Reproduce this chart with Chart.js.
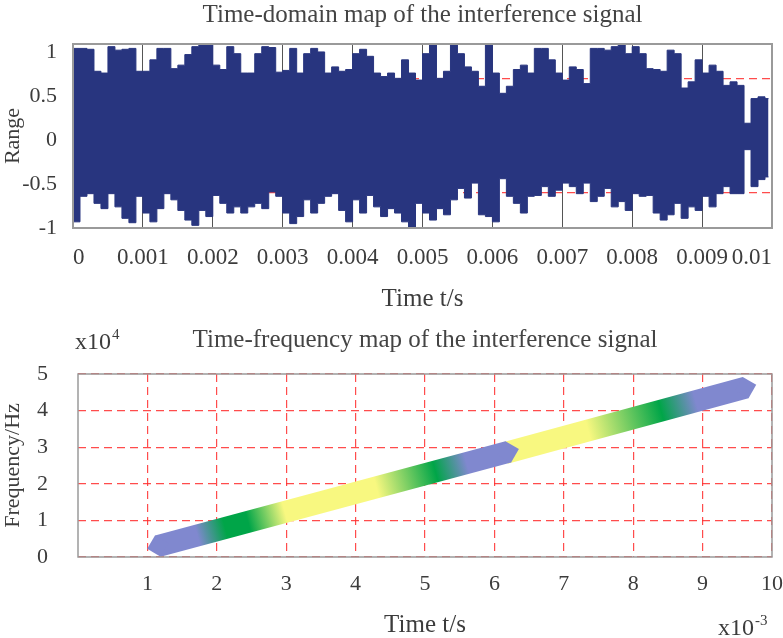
<!DOCTYPE html>
<html>
<head>
<meta charset="utf-8">
<script src="https://cdn.jsdelivr.net/npm/chart.js@4.4.1/dist/chart.umd.min.js"></script>
<style>
  html, body { margin: 0; padding: 0; background: #ffffff; }
  #wrap { position: relative; width: 783px; height: 638px; overflow: hidden; }
  canvas { position: absolute; left: 0; }
  #timeChart { top: 0; }
  #tfChart { top: 318px; }
</style>
</head>
<body>
<div id="wrap">
  <canvas id="timeChart" width="783" height="318"></canvas>
  <canvas id="tfChart" width="783" height="320"></canvas>
</div>
<script>
// ---------------- DATA ----------------
// Time-domain signal: envelope (max / min) of the interference signal per 0.1 ms block
const sampleStep = 0.0001;          // s, width of one envelope block
const signalEnd = 0.00995;          // s, where the recorded signal stops
const upperEnvelope = [
  1.04,1.04,1.03,0.78,0.76,1.06,1.02,1.03,1.04,0.78,0.78,0.91,1.04,1.04,0.81,0.85,0.97,1.06,1.09,1.08,0.85,0.80,1.06,0.98,0.76,
  0.76,0.98,1.06,1.05,0.77,0.79,1.04,0.76,0.98,1.04,1.00,0.76,0.83,0.78,0.80,0.98,1.03,0.95,0.76,0.72,0.76,0.70,0.91,0.76,0.68,
  0.98,1.09,0.70,0.78,1.08,0.98,0.83,0.78,0.61,1.08,0.76,0.53,0.61,0.80,0.85,0.76,1.04,1.04,0.91,0.76,0.68,0.83,0.80,0.64,1.04,
  1.04,1.02,1.06,1.08,0.98,1.06,0.98,0.81,0.80,0.78,1.02,0.98,0.59,0.66,0.91,0.76,0.85,0.78,0.62,0.66,0.62,0.19,0.47,0.49,0.47
];
const lowerEnvelope = [
  -0.93,-0.64,-0.61,-0.72,-0.78,-0.61,-0.76,-0.89,-0.94,-0.64,-0.83,-0.93,-0.78,-0.61,-0.68,-0.80,-0.91,-0.97,-0.80,-0.87,-0.63,-0.72,-0.83,-0.76,-0.83,
  -0.76,-0.72,-0.78,-0.59,-0.64,-0.83,-0.95,-0.87,-0.68,-0.83,-0.72,-0.64,-0.61,-0.80,-0.93,-0.68,-0.83,-0.63,-0.76,-0.87,-0.78,-0.83,-0.93,-0.99,-0.72,
  -0.83,-0.91,-0.78,-0.85,-0.68,-0.55,-0.66,-0.49,-0.85,-0.87,-0.93,-0.44,-0.64,-0.72,-0.83,-0.64,-0.63,-0.53,-0.64,-0.57,-0.49,-0.53,-0.61,-0.49,-0.70,
  -0.64,-0.55,-0.76,-0.70,-0.80,-0.61,-0.64,-0.63,-0.83,-0.91,-0.85,-0.72,-0.89,-0.76,-0.80,-0.64,-0.76,-0.61,-0.53,-0.61,-0.61,-0.11,-0.53,-0.45,-0.42
];
const timeTicks = [0, 0.001, 0.002, 0.003, 0.004, 0.005, 0.006, 0.007, 0.008, 0.009, 0.01];
const rangeTicks = [-1, -0.5, 0, 0.5, 1];

// Time-frequency map: centre line of the two chirp segments (time in ms, frequency in 10^4 Hz)
const band1Time = [1.15, 6.2];
const band1Freq = [0.30, 2.87];
const band2Time = [6.15, 9.62];
const band2Freq = [2.84, 4.63];
const tfTimeTicks = [1, 2, 3, 4, 5, 6, 7, 8, 9, 10];
const tfFreqTicks = [0, 1, 2, 3, 4, 5];

// ---------------- STYLE ----------------
const FAMILY = "'Liberation Serif', 'Times New Roman', serif";
const TEXT = '#3c3c3c';
const NAVY = '#28357f';
const PERI = '#8088cf';
const GREEN = '#00a548';
const YELLOW = '#f8f880';
const RED_GRID = 'rgba(255,45,45,0.85)';
const rangeGridLevels = [0.7, -0.6];
const band1Stops = [[1.0, PERI], [1.72, PERI], [2.12, GREEN], [2.45, GREEN], [2.98, YELLOW], [4.3, YELLOW], [5.15, GREEN], [5.6, PERI], [6.4, PERI]];
const band2Stops = [[6.1, YELLOW], [7.35, YELLOW], [8.4, GREEN], [8.9, PERI], [9.9, PERI]];

function fmtTime(v) { return String(Number(v.toFixed(4))); }
function fmtPlain(v) { return String(Number(v.toFixed(2))); }

const frame = {
  id: 'frame',
  afterDatasetsDraw(chart, args, opts) {
    const { ctx, chartArea: a } = chart;
    ctx.save();
    ctx.strokeStyle = opts.color || '#999';
    ctx.lineWidth = opts.width || 1.5;
    ctx.strokeRect(a.left, a.top, a.right - a.left, a.bottom - a.top);
    ctx.restore();
  }
};

const sciLabels = {
  id: 'sciLabels',
  afterDraw(chart, args, opts) {
    const ctx = chart.ctx;
    ctx.save();
    ctx.fillStyle = TEXT;
    ctx.textBaseline = 'alphabetic';
    ctx.textAlign = 'left';
    (opts.items || []).forEach(it => {
      ctx.font = `24px ${FAMILY}`;
      ctx.fillText(it.base, it.x, it.y);
      const w = ctx.measureText(it.base).width;
      ctx.font = `15px ${FAMILY}`;
      ctx.fillText(it.exp, it.x + w + 1, it.y - 10);
    });
    ctx.restore();
  }
};

// ---------------- TOP: time-domain map ----------------
const times = upperEnvelope.map((_, i) => i * sampleStep);
const upperPts = times.map((t, i) => ({ x: t, y: upperEnvelope[i] }))
  .concat([{ x: signalEnd, y: upperEnvelope[upperEnvelope.length - 1] }]);
const lowerPts = times.map((t, i) => ({ x: t, y: lowerEnvelope[i] }))
  .concat([{ x: signalEnd, y: lowerEnvelope[lowerEnvelope.length - 1] }]);

new Chart(document.getElementById('timeChart'), {
  type: 'line',
  data: {
    datasets: [
      { data: upperPts, stepped: true, borderColor: NAVY, backgroundColor: NAVY, borderWidth: 1, pointRadius: 0, fill: '+1' },
      { data: lowerPts, stepped: true, borderColor: NAVY, backgroundColor: NAVY, borderWidth: 1, pointRadius: 0, fill: false }
    ]
  },
  options: {
    responsive: false, animation: false, devicePixelRatio: 1,
    layout: { padding: { left: 0, right: 11, top: 0, bottom: 0 } },
    plugins: {
      legend: { display: false }, tooltip: { enabled: false },
      title: { display: true, fullSize: false, text: 'Time-domain map of the interference signal',
        font: { family: FAMILY, size: 25, weight: 'normal' }, color: '#444', padding: { top: 0, bottom: 14 } },
      frame: { color: '#9a9a9a', width: 2 }
    },
    scales: {
      x: {
        type: 'linear', min: 0, max: 0.01,
        afterBuildTicks: s => { s.ticks = timeTicks.map(v => ({ value: v })); },
        afterFit: s => { s.height = 90; s.paddingLeft = 0; s.paddingRight = 0; },
        ticks: { callback: v => fmtTime(v), font: { family: FAMILY, size: 23 }, color: TEXT, padding: 16, maxRotation: 0, autoSkip: false, align: 'inner' },
        grid: { color: '#555', lineWidth: 1, drawTicks: false },
        border: { display: false },
        title: { display: true, text: 'Time t/s', font: { family: FAMILY, size: 25 }, color: TEXT, padding: { top: 0, bottom: 4 } }
      },
      y: {
        type: 'linear', position: 'left', min: -1, max: 1.09,
        afterBuildTicks: s => { s.ticks = rangeTicks.map(v => ({ value: v })); },
        afterFit: s => { s.width = 73; s.paddingTop = 0; s.paddingBottom = 0; },
        ticks: { callback: v => fmtPlain(v), font: { family: FAMILY, size: 22 }, color: TEXT, padding: 16 },
        grid: { display: false, drawTicks: false },
        border: { display: false },
        title: { display: true, text: 'Range', font: { family: FAMILY, size: 22 }, color: TEXT, padding: { top: 0, bottom: 0 } }
      },
      yGrid: {
        type: 'linear', position: 'left', min: -1, max: 1.09,
        afterBuildTicks: s => { s.ticks = rangeGridLevels.map(v => ({ value: v })); },
        afterFit: s => { s.width = 0; s.paddingTop = 0; s.paddingBottom = 0; },
        ticks: { display: false },
        grid: { color: RED_GRID, lineWidth: 1.2, drawTicks: false },
        border: { display: false, dash: [8, 5] }
      }
    }
  },
  plugins: [frame]
});

// ---------------- BOTTOM: time-frequency map ----------------
function bandAngle(chart, ts, fs) {
  const s = chart.scales;
  if (!s || !s.x || !s.y) return 0;
  const dx = s.x.getPixelForValue(ts[1]) - s.x.getPixelForValue(ts[0]);
  const dy = s.y.getPixelForValue(fs[1]) - s.y.getPixelForValue(fs[0]);
  return Math.atan2(dy, dx) * 180 / Math.PI;
}
function bandGradient(chart, ts, fs, stops) {
  const { ctx, chartArea, scales } = chart;
  if (!chartArea || !scales || !scales.x) return stops[0][1];
  const slope = (fs[1] - fs[0]) / (ts[1] - ts[0]);
  const f = t => fs[0] + slope * (t - ts[0]);
  const t0 = stops[0][0], t1 = stops[stops.length - 1][0];
  const g = ctx.createLinearGradient(
    scales.x.getPixelForValue(t0), scales.y.getPixelForValue(f(t0)),
    scales.x.getPixelForValue(t1), scales.y.getPixelForValue(f(t1)));
  stops.forEach(([t, c]) => g.addColorStop(Math.min(1, Math.max(0, (t - t0) / (t1 - t0))), c));
  return g;
}
function bandDataset(ts, fs, stops, radii) {
  return {
    data: ts.map((t, i) => ({ x: t, y: fs[i] })),
    borderWidth: 22, borderCapStyle: 'butt', tension: 0, fill: false, clip: 0,
    borderColor: ctx => bandGradient(ctx.chart, ts, fs, stops),
    pointStyle: 'rectRot', pointRadius: radii, pointHoverRadius: radii,
    pointBackgroundColor: PERI, pointBorderColor: PERI, pointBorderWidth: 0,
    pointRotation: ctx => bandAngle(ctx.chart, ts, fs)
  };
}

new Chart(document.getElementById('tfChart'), {
  type: 'line',
  data: {
    datasets: [
      bandDataset(band1Time, band1Freq, band1Stops, [11, 11]),
      bandDataset(band2Time, band2Freq, band2Stops, [0, 11])
    ]
  },
  options: {
    responsive: false, animation: false, devicePixelRatio: 1,
    layout: { padding: { left: 0, right: 7, top: 0, bottom: 0 } },
    plugins: {
      legend: { display: false }, tooltip: { enabled: false },
      title: { display: true, fullSize: false, text: 'Time-frequency map of the interference signal',
        font: { family: FAMILY, size: 25, weight: 'normal' }, color: '#444', padding: { top: 7, bottom: 19 } },
      frame: { color: '#9a9a9a', width: 1.5 },
      sciLabels: { items: [ { base: 'x10', exp: '4', x: 75, y: 31 }, { base: 'x10', exp: '-3', x: 718, y: 317 } ] }
    },
    scales: {
      x: {
        type: 'linear', min: 0, max: 10,
        afterBuildTicks: s => { s.ticks = tfTimeTicks.map(v => ({ value: v })); },
        afterFit: s => { s.height = 81; s.paddingLeft = 0; s.paddingRight = 0; },
        ticks: { font: { family: FAMILY, size: 22 }, color: TEXT, padding: 14, maxRotation: 0, autoSkip: false },
        grid: { color: RED_GRID, lineWidth: 1.2, drawTicks: false },
        border: { display: false, dash: [8, 5] },
        title: { display: true, text: 'Time t/s', font: { family: FAMILY, size: 25, lineHeight: 1 }, color: TEXT, padding: { top: 0, bottom: 0 } }
      },
      y: {
        type: 'linear', min: 0, max: 5,
        afterBuildTicks: s => { s.ticks = tfFreqTicks.map(v => ({ value: v })); },
        afterFit: s => { s.width = 78; s.paddingTop = 0; s.paddingBottom = 0; },
        ticks: { font: { family: FAMILY, size: 22 }, color: TEXT, padding: 30 },
        grid: { color: RED_GRID, lineWidth: 1.2, drawTicks: false },
        border: { display: false, dash: [8, 5] },
        title: { display: true, text: 'Frequency/Hz', font: { family: FAMILY, size: 22 }, color: TEXT, padding: { top: 0, bottom: 0 } }
      }
    }
  },
  plugins: [frame, sciLabels]
});
</script>
</body>
</html>
